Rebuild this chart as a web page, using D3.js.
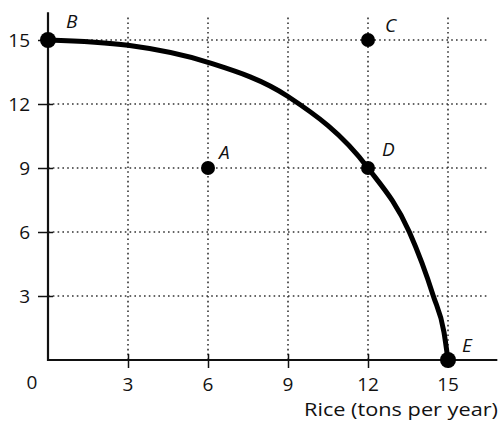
<!DOCTYPE html>
<html>
<head>
<meta charset="utf-8">
<script src="https://cdn.jsdelivr.net/npm/d3@7"></script>
<style>
  body { margin: 0; background: #fff; }
  svg { display: block; }
  text { font-family: "Open Sans", Lato, sans-serif; fill: #111; }
  .tick-label { font-size: 19px; }
  .axis-title { font-size: 18px; }
  .pt-label { font-size: 19px; font-style: italic; }
</style>
</head>
<body>
<svg id="chart" width="504" height="425"></svg>
<script>
// values
const xTicks = [3, 6, 9, 12, 15];
const yTicks = [3, 6, 9, 12, 15];
const xLabel = "Rice (tons per year)";

// production possibilities frontier, B -> E
const curveX = [0, 3, 6, 9, 12, 13.55, 14.45, 14.85, 15];
const curveY = [15, 14.75, 13.95, 12.35, 9, 6, 3, 1.3, 0];

const pointNames = ["A", "B", "C", "D", "E"];
const pointX = [6, 0, 12, 12, 15];
const pointY = [9, 15, 15, 9, 0];

(function () {
  const svg = d3.select("#chart");

  const x = d3.scaleLinear().domain([0, 15]).range([48, 448]);
  const y = d3.scaleLinear().domain([0, 15]).range([360, 40]);

  // dotted grid
  const grid = svg.append("g").attr("class", "grid")
    .attr("stroke", "#333")
    .attr("stroke-width", 1.6)
    .attr("stroke-dasharray", "1.6,3.2");

  grid.selectAll("line.v").data(xTicks).enter().append("line")
    .attr("class", "v")
    .attr("x1", d => x(d)).attr("x2", d => x(d))
    .attr("y1", y(0)).attr("y2", y(16.05));

  grid.selectAll("line.h").data(yTicks).enter().append("line")
    .attr("class", "h")
    .attr("y1", d => y(d)).attr("y2", d => y(d))
    .attr("x1", x(0)).attr("x2", x(16.45));

  // axes
  const xAxis = svg.append("g")
    .attr("transform", `translate(0,${y(0)})`)
    .call(d3.axisBottom(x).tickValues(xTicks).tickSize(8).tickFormat(""));
  xAxis.select(".domain").remove();
  xAxis.selectAll(".tick line").attr("y1", -6).attr("stroke", "#111").attr("stroke-width", 1.5);

  const yAxis = svg.append("g")
    .attr("transform", `translate(${x(0)},0)`)
    .call(d3.axisLeft(y).tickValues(yTicks).tickSize(10).tickFormat(""));
  yAxis.select(".domain").remove();
  yAxis.selectAll(".tick line").attr("x1", 5).attr("stroke", "#111").attr("stroke-width", 1.5);

  svg.append("line")
    .attr("x1", x(0) - 1).attr("x2", x(16.85))
    .attr("y1", y(0)).attr("y2", y(0))
    .attr("stroke", "#111").attr("stroke-width", 2.2);
  svg.append("line")
    .attr("x1", x(0)).attr("x2", x(0))
    .attr("y1", y(0) + 1).attr("y2", y(16.3))
    .attr("stroke", "#111").attr("stroke-width", 2.2);

  // tick labels
  svg.selectAll("text.xt").data(xTicks).enter().append("text")
    .attr("class", "tick-label")
    .attr("x", d => x(d)).attr("y", 391)
    .attr("text-anchor", "middle")
    .text(d => d);

  svg.selectAll("text.yt").data(yTicks).enter().append("text")
    .attr("class", "tick-label")
    .attr("x", 30).attr("y", d => y(d) + 7)
    .attr("text-anchor", "end")
    .text(d => d);

  svg.append("text").attr("class", "tick-label")
    .attr("x", 32).attr("y", 389).attr("text-anchor", "middle").text("0");

  svg.append("text").attr("class", "axis-title")
    .attr("x", 498).attr("y", 416).attr("text-anchor", "end")
    .attr("textLength", 194).attr("lengthAdjust", "spacingAndGlyphs")
    .text(xLabel);

  // frontier
  const line = d3.line()
    .x(i => x(curveX[i]))
    .y(i => y(curveY[i]))
    .curve(d3.curveMonotoneX);

  svg.append("path")
    .datum(d3.range(curveX.length))
    .attr("d", line)
    .attr("fill", "none")
    .attr("stroke", "#000")
    .attr("stroke-width", 5)
    .attr("stroke-linecap", "round");

  // points
  const pts = pointNames.map((n, i) => ({ name: n, x: pointX[i], y: pointY[i] }));
  svg.selectAll("circle.pt").data(pts).enter().append("circle")
    .attr("class", "pt")
    .attr("cx", d => x(d.x)).attr("cy", d => y(d.y))
    .attr("r", d => (d.name === "B" || d.name === "E") ? 8 : 7)
    .attr("fill", "#000");

  // label offsets (px)
  const off = { A: [11, -9], B: [18, -12], C: [17, -8], D: [14, -12], E: [14, -8] };
  svg.selectAll("text.pl").data(pts).enter().append("text")
    .attr("class", "pt-label")
    .attr("x", d => x(d.x) + off[d.name][0])
    .attr("y", d => y(d.y) + off[d.name][1])
    .text(d => d.name);
})();
</script>
</body>
</html>
